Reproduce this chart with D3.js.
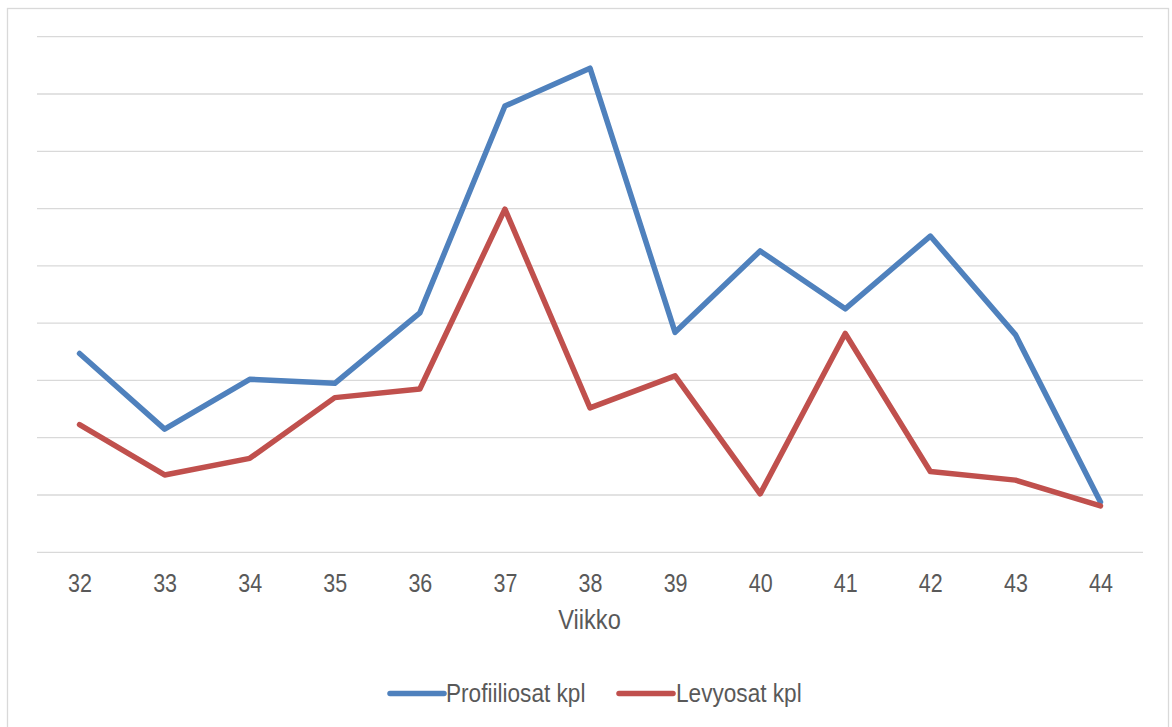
<!DOCTYPE html>
<html>
<head>
<meta charset="utf-8">
<script src="https://cdn.jsdelivr.net/npm/d3@7"></script>
<style>
  html, body { margin: 0; padding: 0; background: #fff; }
  svg { display: block; }
  .lbl { font-family: "Liberation Sans", Arial, sans-serif; fill: #595959; }
</style>
</head>
<body>
<svg id="chart" width="1172" height="727"></svg>
<script>
// Weekly counts
const weeks = ["32", "33", "34", "35", "36", "37", "38", "39", "40", "41", "42", "43", "44"];
const profiiliosat = [34.7, 21.5, 30.2, 29.5, 41.8, 77.9, 84.5, 38.4, 52.6, 42.5, 55.2, 38.0, 8.8];
const levyosat     = [22.3, 13.5, 16.4, 27.0, 28.5, 59.9, 25.2, 30.8, 10.2, 38.2, 14.1, 12.6, 8.1];
const yTicks = [0, 10, 20, 30, 40, 50, 60, 70, 80, 90];

const series = [
  { name: "Profiiliosat kpl", values: profiiliosat, color: "#4f81bd" },
  { name: "Levyosat kpl",     values: levyosat,     color: "#c0504d" }
];

const NARROW = 0.86; // horizontal squeeze for a narrow sans look

const svg = d3.select("#chart");
const plot = { left: 37, right: 1143, top: 36.7, bottom: 552.3 };

// outer chart frame
svg.append("rect")
  .attr("x", 7.5).attr("y", 8.5)
  .attr("width", 1161).attr("height", 730)
  .attr("fill", "none").attr("stroke", "#d9d9d9").attr("stroke-width", 1.3);

const x = d3.scalePoint().domain(weeks).range([plot.left, plot.right]).padding(0.5);
const y = d3.scaleLinear().domain([0, 90]).range([plot.bottom, plot.top]);

// horizontal gridlines
svg.append("g").selectAll("line").data(yTicks).join("line")
  .attr("x1", plot.left).attr("x2", plot.right)
  .attr("y1", d => y(d)).attr("y2", d => y(d))
  .attr("stroke", "#d9d9d9").attr("stroke-width", 1.3);

// category axis labels
const xAxis = d3.axisBottom(x).tickSize(0).tickPadding(0);
const gx = svg.append("g").attr("transform", `translate(0,${plot.bottom})`).call(xAxis);
gx.select(".domain").remove();
gx.selectAll("text")
  .attr("class", "lbl")
  .attr("dy", null)
  .attr("y", 39.5)
  .attr("transform", `scale(${NARROW},1)`)
  .style("font-size", "25px");

// helper: narrow text positioned at (px, py)
function narrowText(px, py, size, anchor, str) {
  svg.append("g")
    .attr("transform", `translate(${px},${py}) scale(${NARROW},1)`)
    .append("text").attr("class", "lbl")
    .attr("text-anchor", anchor)
    .style("font-size", size + "px")
    .text(str);
}

// axis title
narrowText(589.5, 629, 27.5, "middle", "Viikko");

// series lines
const line = d3.line().x((d, i) => x(weeks[i])).y(d => y(d));
svg.append("g").selectAll("path").data(series).join("path")
  .attr("d", s => line(s.values))
  .attr("fill", "none")
  .attr("stroke", s => s.color)
  .attr("stroke-width", 5.5)
  .attr("stroke-linejoin", "round")
  .attr("stroke-linecap", "round");

// legend
const legendItems = [
  { x: 390, textX: 446 },
  { x: 619, textX: 676 }
];
series.forEach((s, i) => {
  const it = legendItems[i];
  svg.append("line")
    .attr("x1", it.x).attr("x2", it.x + 54)
    .attr("y1", 693.5).attr("y2", 693.5)
    .attr("stroke", s.color).attr("stroke-width", 5.5)
    .attr("stroke-linecap", "round");
  narrowText(it.textX, 702, 26.3, "start", s.name);
});
</script>
</body>
</html>
